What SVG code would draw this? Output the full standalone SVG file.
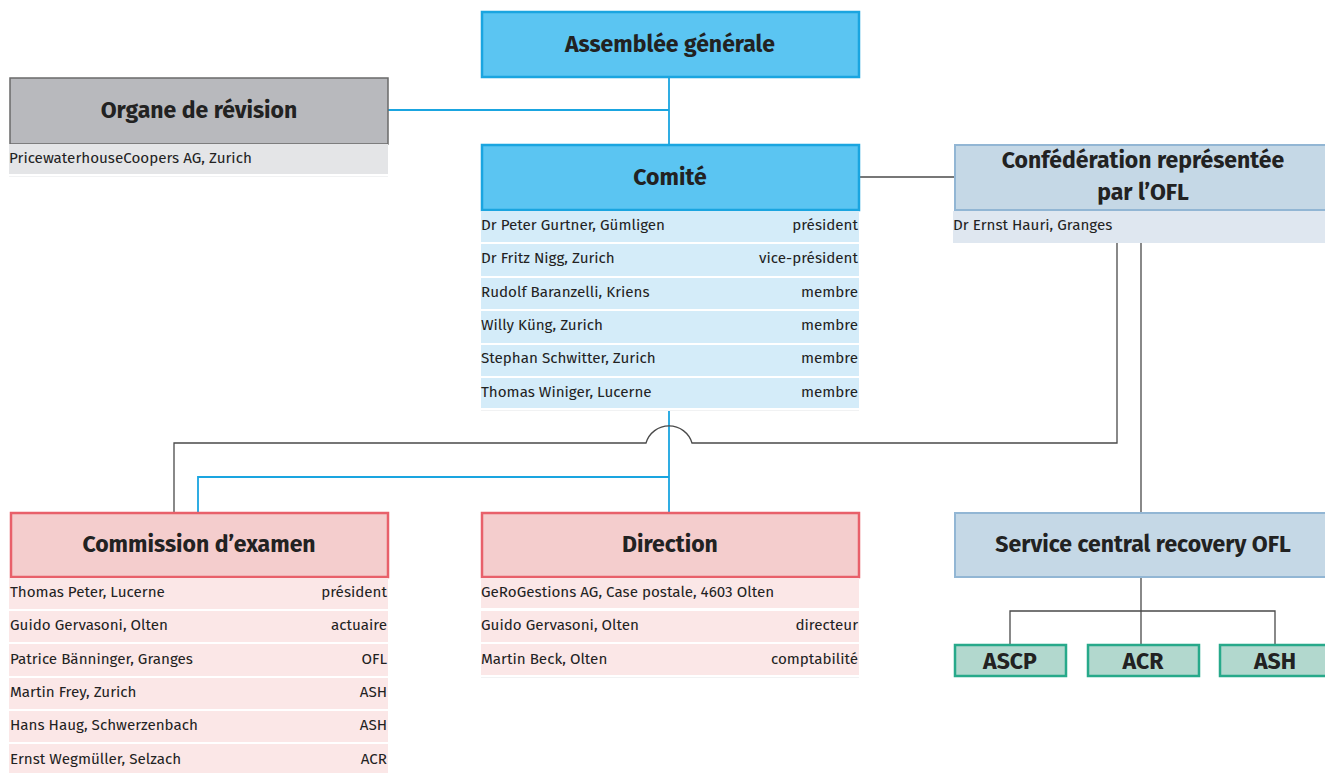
<svg xmlns="http://www.w3.org/2000/svg" width="1325" height="773" viewBox="0 0 1325 773">
<style>
.t{font-family:"Fira Sans","Liberation Sans",Arial,sans-serif;font-weight:bold;font-size:23px;fill:#222;text-anchor:middle}
.r{font-family:"Fira Sans","Liberation Sans",Arial,sans-serif;font-size:15.2px;fill:#222}
.e{text-anchor:end}
.blue{fill:#5bc5f2;stroke:#1aa5e0;stroke-width:2.5}
.grey{fill:#b8b9bd;stroke:#6a6a6a;stroke-width:1.5}
.pale{fill:#c5d8e6;stroke:#92b6d4;stroke-width:2}
.red{fill:#f4cdcd;stroke:#e8606a;stroke-width:2.5}
.teal{fill:#b2d8ce;stroke:#27a98a;stroke-width:2.5}
.rb{fill:#d4ecf9}.rr{fill:#fbe7e7}.rg{fill:#e4e5e7}.rp{fill:#dfe7f0}
.end{fill:#f1f2f3}
.cb{fill:none;stroke:#1aa5e0;stroke-width:1.8}
.cd{fill:none;stroke:#4a4a4a;stroke-width:1.3}
</style>
<rect width="1325" height="773" fill="#fff"/>
<g id="connectors">
<path class="cb" d="M388,110H669M669,77V145"/>
<path class="cd" d="M859,177H954"/>
<path class="cb" d="M669,410V512M669,477H198V512"/>
<path class="cd" d="M1117,243V443H692A24,24 0 0 0 646,443H174V512"/>
<path class="cd" d="M1141,243V512M1141,577V645M1010,645V611H1275V645"/>
</g>
<g id="assemblee">
<rect class="blue" x="482" y="12" width="377" height="65"/>
<text class="t" x="670" y="52">Assemblée générale</text>
</g>
<g id="organe">
<rect class="grey" x="10" y="78" width="378" height="66"/>
<text class="t" x="199" y="118">Organe de révision</text>
<rect class="rg" x="9" y="144" width="379" height="30"/>
<rect class="end" x="9" y="176" width="379" height="1"/>
<text class="r" x="9" y="163">PricewaterhouseCoopers AG, Zurich</text>
</g>
<g id="comite">
<rect class="blue" x="482" y="145" width="377" height="65"/>
<text class="t" x="670" y="185">Comité</text>
<rect class="rb" x="481" y="211" width="378" height="31"/>
<rect class="rb" x="481" y="244" width="378" height="32"/>
<rect class="rb" x="481" y="278" width="378" height="31"/>
<rect class="rb" x="481" y="311" width="378" height="32"/>
<rect class="rb" x="481" y="345" width="378" height="31"/>
<rect class="rb" x="481" y="378" width="378" height="30"/>
<rect class="end" x="481" y="410" width="378" height="1"/>
<text class="r" x="481" y="230">Dr Peter Gurtner, Gümligen</text><text class="r e" x="858" y="230">président</text>
<text class="r" x="481" y="263">Dr Fritz Nigg, Zurich</text><text class="r e" x="858" y="263">vice-président</text>
<text class="r" x="481" y="297">Rudolf Baranzelli, Kriens</text><text class="r e" x="858" y="297">membre</text>
<text class="r" x="481" y="330">Willy Küng, Zurich</text><text class="r e" x="858" y="330">membre</text>
<text class="r" x="481" y="363">Stephan Schwitter, Zurich</text><text class="r e" x="858" y="363">membre</text>
<text class="r" x="481" y="397">Thomas Winiger, Lucerne</text><text class="r e" x="858" y="397">membre</text>
</g>
<g id="confederation">
<rect class="pale" x="955" y="145" width="378" height="65"/>
<text class="t" x="1143" y="168">Confédération représentée</text>
<text class="t" x="1143" y="200">par l’OFL</text>
<rect class="rp" x="953" y="211" width="380" height="32"/>
<text class="r" x="953" y="230">Dr Ernst Hauri, Granges</text>
</g>
<g id="commission">
<rect class="red" x="11" y="513" width="377" height="64"/>
<text class="t" x="199" y="552">Commission d’examen</text>
<rect class="rr" x="9" y="578" width="379" height="31"/>
<rect class="rr" x="9" y="611" width="379" height="31"/>
<rect class="rr" x="9" y="644" width="379" height="32"/>
<rect class="rr" x="9" y="678" width="379" height="31"/>
<rect class="rr" x="9" y="711" width="379" height="31"/>
<rect class="rr" x="9" y="744" width="379" height="29"/>
<text class="r" x="10" y="597">Thomas Peter, Lucerne</text><text class="r e" x="387" y="597">président</text>
<text class="r" x="10" y="630">Guido Gervasoni, Olten</text><text class="r e" x="387" y="630">actuaire</text>
<text class="r" x="10" y="664">Patrice Bänninger, Granges</text><text class="r e" x="387" y="664">OFL</text>
<text class="r" x="10" y="697">Martin Frey, Zurich</text><text class="r e" x="387" y="697">ASH</text>
<text class="r" x="10" y="730">Hans Haug, Schwerzenbach</text><text class="r e" x="387" y="730">ASH</text>
<text class="r" x="10" y="764">Ernst Wegmüller, Selzach</text><text class="r e" x="387" y="764">ACR</text>
</g>
<g id="direction">
<rect class="red" x="482" y="513" width="377" height="64"/>
<text class="t" x="670" y="552">Direction</text>
<rect class="rr" x="481" y="578" width="378" height="30"/>
<rect class="rr" x="481" y="611" width="378" height="31"/>
<rect class="rr" x="481" y="644" width="378" height="31"/>
<rect class="end" x="481" y="677" width="378" height="1"/>
<text class="r" x="481" y="597">GeRoGestions AG, Case postale, 4603 Olten</text>
<text class="r" x="481" y="630">Guido Gervasoni, Olten</text><text class="r e" x="858" y="630">directeur</text>
<text class="r" x="481" y="664">Martin Beck, Olten</text><text class="r e" x="858" y="664">comptabilité</text>
</g>
<g id="service">
<rect class="pale" x="955" y="513" width="378" height="64"/>
<text class="t" x="1143" y="552">Service central recovery OFL</text>
</g>
<g id="ascp">
<rect class="teal" x="955" y="645" width="111" height="31"/>
<text class="t" x="1010" y="669">ASCP</text>
</g>
<g id="acr">
<rect class="teal" x="1088" y="645" width="111" height="31"/>
<text class="t" x="1143" y="669">ACR</text>
</g>
<g id="ash">
<rect class="teal" x="1220" y="645" width="111" height="31"/>
<text class="t" x="1275" y="669">ASH</text>
</g>
</svg>
